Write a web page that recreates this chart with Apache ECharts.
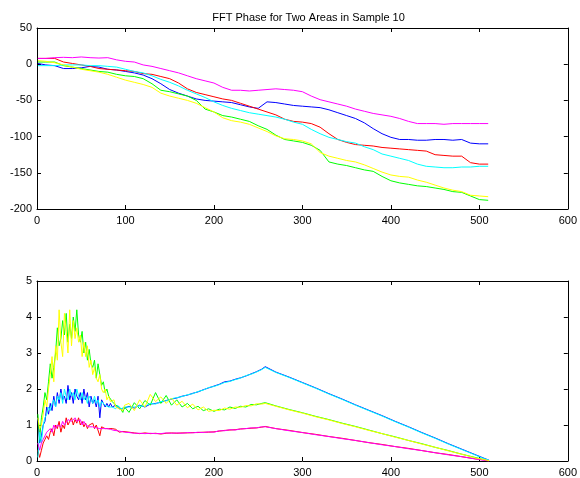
<!DOCTYPE html>
<html>
<head>
<meta charset="utf-8">
<script src="https://cdn.jsdelivr.net/npm/echarts@6/dist/echarts.min.js"></script>
<style>html,body{margin:0;padding:0;background:#fff;}#c{width:580px;height:478px;}</style>
</head>
<body>
<div id="c"></div>
<script>
// ---- Top subplot: phase ----
var xTop = [1,10,20,30,40,50,60,70,80,90,100,110,120,130,140,150,160,170,180,190,200,210,220,230,240,250,260,270,280,290,300,310,320,330,340,350,360,370,380,390,400,410,420,430,440,450,460,470,480,490,500,510];
var phaseBlue = [1,-1,-2,-6,-6,-5,-3,-4,-7,-8,-10,-12,-15,-20,-27,-35,-40,-44,-48,-50,-51,-52,-53,-56,-59,-61,-52,-53,-55,-57,-58,-59,-60,-63,-67,-71,-75,-81,-89,-96,-101,-104,-104,-105,-105,-104,-104,-105,-104,-109,-110,-110];
var phaseGreen = [3,3,3,-2,-4,-6,-8,-10,-11,-14,-16,-17,-20,-27,-36,-38,-41,-44,-50,-62,-66,-71,-73,-76,-79,-85,-90,-98,-104,-106,-108,-112,-119,-135,-138,-140,-143,-146,-148,-155,-161,-164,-166,-168,-169,-171,-173,-176,-177,-182,-187,-188];
var phaseRed = [8,8,8,3,1,-1,-3,-6,-7,-8,-9,-10,-13,-14,-17,-20,-26,-34,-39,-42,-45,-48,-50,-54,-58,-62,-66,-70,-76,-79,-80,-82,-87,-96,-104,-108,-111,-112,-113,-115,-116,-117,-118,-119,-120,-125,-126,-127,-127,-136,-138,-138];
var phaseCyan = [-2,-2,-2,-1,-1,-1,-2,-2,-3,-4,-7,-10,-12,-16,-21,-25,-30,-36,-41,-46,-52,-57,-61,-64,-67,-69,-71,-73,-76,-80,-83,-90,-96,-101,-104,-107,-109,-114,-118,-124,-127,-130,-133,-138,-141,-142,-143,-143,-142,-142,-141,-141];
var phaseMagenta = [8,8,9,9.5,9,10,9,8.5,9,6,4,3,-1,-3,-6,-9,-12,-16,-20,-23,-26,-32,-36,-36,-37,-36,-35,-34,-35,-36,-38,-44,-49,-52,-55,-58,-62,-65,-68,-70,-72,-75,-79,-82,-82,-82,-83,-82,-82,-82,-82,-82];
var phaseYellow = [5,4,2,-1,-4,-7,-9,-11,-14,-18,-22,-25,-28,-32,-40,-44,-47,-50,-54,-60,-66,-74,-78,-80,-83,-88,-93,-99,-103,-104,-106,-110,-122,-127,-130,-133,-135,-139,-144,-149,-153,-155,-156,-160,-163,-167,-171,-174,-176,-181,-182,-183];

// ---- Bottom subplot ----
var xBot = [1,3,5,7,9,11,13,15,17,19,21,23,25,27,29,31,33,35,37,39,41,43,45,47,49,51,53,55,57,59,61,63,65,67,69,71,73,75,77,79,81,83,85,87,89,91,93,95,97,99,
  104,110,116,122,128,134,140,146,152,158,164,170,176,182,188,194,200,206,212,218,224,230,236,242,248,254,
  258,
  270,285,300,315,330,345,360,375,390,405,420,435,450,465,480,495,505,511];
var botBlue = [1.2,0.5,0.7,1.0,1.1,1.5,1.3,1.6,1.4,1.8,1.5,1.9,1.6,2.0,1.7,1.8,1.6,2.1,1.7,1.9,1.6,2.0,1.8,1.7,1.9,1.6,2.0,1.7,1.9,1.5,1.8,1.6,1.7,1.5,1.8,1.2,1.7,1.6,1.5,1.6,1.5,1.6,1.5,1.45,1.55,1.5,1.45,1.5,1.45,1.5,
  1.52,1.47,1.55,1.5,1.58,1.6,1.63,1.68,1.72,1.75,1.8,1.83,1.88,1.92,1.98,2.03,2.08,2.13,2.2,2.22,2.27,2.31,2.36,2.42,2.48,2.55,
  2.62,
  2.47,2.33,2.18,2.03,1.87,1.72,1.56,1.41,1.26,1.1,0.95,0.79,0.64,0.48,0.33,0.18,0.08,0.02];
var botGreen = [1.3,0.6,1.2,1.5,1.9,1.7,2.2,2.7,2.3,2.6,3.0,3.7,3.2,3.4,3.9,3.5,4.1,3.3,3.8,3.4,4.0,3.6,4.2,3.5,3.3,3.6,3.0,3.3,2.8,3.1,2.7,2.6,2.8,2.3,2.7,2.4,2.1,2.2,1.9,2.0,1.8,1.75,1.65,1.7,1.55,1.6,1.5,1.45,1.35,1.5,
  1.35,1.62,1.45,1.68,1.55,1.9,1.6,1.82,1.55,1.7,1.5,1.6,1.45,1.52,1.4,1.45,1.38,1.44,1.42,1.5,1.46,1.52,1.5,1.57,1.56,1.6,
  1.62,
  1.53,1.43,1.34,1.24,1.15,1.05,0.96,0.86,0.76,0.67,0.57,0.48,0.38,0.29,0.19,0.1,0.04,0.01];
var botRed = [0.3,0.1,0.3,0.5,0.6,0.7,0.6,0.8,0.9,0.7,1.0,0.9,1.1,0.8,1.0,0.9,1.2,1.0,1.1,1.2,1.0,1.15,1.05,1.2,1.0,1.1,0.95,1.05,0.9,1.0,0.95,1.05,0.9,1.0,0.95,0.7,0.95,0.9,0.9,0.85,0.9,0.85,0.9,0.85,0.88,0.85,0.8,0.85,0.82,0.8,
  0.8,0.78,0.76,0.78,0.76,0.77,0.75,0.77,0.78,0.77,0.78,0.78,0.79,0.79,0.8,0.8,0.81,0.83,0.85,0.86,0.87,0.89,0.9,0.91,0.92,0.94,
  0.96,
  0.9,0.85,0.79,0.74,0.68,0.63,0.57,0.51,0.46,0.4,0.35,0.29,0.23,0.18,0.12,0.06,0.03,0.0];
var botCyan = [0.1,0.8,0.5,1.0,1.2,1.3,1.5,1.4,1.6,1.7,1.5,1.8,1.7,1.9,1.6,2.0,1.8,1.7,2.0,1.8,1.9,1.7,2.0,1.8,1.7,1.9,1.7,1.8,1.6,1.8,1.7,1.6,1.8,1.6,1.7,1.5,1.65,1.6,1.55,1.6,1.5,1.55,1.5,1.5,1.45,1.55,1.5,1.45,1.5,1.5,
  1.5,1.5,1.53,1.52,1.6,1.58,1.65,1.67,1.73,1.76,1.79,1.84,1.87,1.93,1.97,2.04,2.07,2.12,2.18,2.21,2.26,2.3,2.37,2.41,2.47,2.54,
  2.6,
  2.46,2.32,2.17,2.02,1.86,1.71,1.55,1.4,1.25,1.09,0.94,0.78,0.63,0.47,0.32,0.17,0.07,0.02];
var botMagenta = [0.5,0.3,0.5,0.6,0.7,0.8,0.85,0.9,0.8,1.0,0.9,1.0,1.05,0.95,1.1,1.0,1.05,1.15,1.2,1.1,1.15,1.2,1.1,1.05,1.15,1.0,1.1,1.0,1.05,0.95,1.0,0.95,1.0,0.92,0.95,0.9,0.93,0.9,0.88,0.9,0.85,0.88,0.85,0.85,0.82,0.84,0.8,0.82,0.8,0.8,
  0.79,0.77,0.77,0.76,0.77,0.76,0.76,0.78,0.77,0.78,0.77,0.79,0.78,0.8,0.79,0.81,0.8,0.84,0.84,0.87,0.86,0.89,0.9,0.92,0.92,0.95,
  0.95,
  0.9,0.84,0.79,0.73,0.68,0.62,0.57,0.51,0.45,0.4,0.34,0.29,0.23,0.17,0.12,0.06,0.02,0.0];
var botYellow = [1.2,0.9,1.0,1.3,1.7,1.5,2.0,2.4,2.9,2.2,3.2,2.8,4.2,3.3,2.9,4.1,3.6,3.0,4.2,3.2,3.9,3.4,3.7,3.3,3.5,2.9,3.3,2.9,3.2,2.6,2.8,2.4,2.6,2.3,2.2,2.4,2.0,1.9,2.0,1.7,1.8,1.65,1.6,1.7,1.5,1.55,1.45,1.5,1.4,1.55,
  1.6,1.4,1.7,1.5,1.85,1.65,1.78,1.6,1.75,1.55,1.66,1.48,1.58,1.42,1.5,1.38,1.41,1.4,1.47,1.44,1.5,1.49,1.54,1.53,1.59,1.58,
  1.6,
  1.52,1.42,1.33,1.23,1.14,1.04,0.95,0.85,0.76,0.66,0.57,0.47,0.38,0.28,0.19,0.09,0.04,0.01];

var titleText = 'FFT Phase for Two Areas in Sample 10';

function pairs(xs, ys){ return xs.map(function(x,i){ return [x, ys[i]]; }); }

var FONT = 'Liberation Sans, Arial, Helvetica, sans-serif';
function axisBase(opts){
  var a = {
    axisLine: {show: true, onZero: false, lineStyle: {color: '#000', width: 1}},
    axisTick: {show: true, inside: true, length: 4, lineStyle: {color: '#000', width: 1}},
    splitLine: {show: false},
    axisLabel: {show: true, color: '#000', fontSize: 11, fontFamily: FONT}
  };
  for (var k in opts) a[k] = opts[k];
  return a;
}

var colorsOrder = ['#0000ff','#00ff00','#ff0000','#00ffff','#ff00ff','#ffff00'];
var topSets = [phaseBlue, phaseGreen, phaseRed, phaseCyan, phaseMagenta, phaseYellow];
var botSets = [botBlue, botGreen, botRed, botCyan, botMagenta, botYellow];

var series = [];
topSets.forEach(function(s, i){
  series.push({type:'line', xAxisIndex:0, yAxisIndex:0, data: pairs(xTop, s), showSymbol:false, symbol:'none',
    lineStyle:{color: colorsOrder[i], width:1}, itemStyle:{color: colorsOrder[i]}, animation:false, silent:true});
});
botSets.forEach(function(s, i){
  series.push({type:'line', xAxisIndex:2, yAxisIndex:2, data: pairs(xBot, s), showSymbol:false, symbol:'none',
    lineStyle:{color: colorsOrder[i], width:1}, itemStyle:{color: colorsOrder[i]}, animation:false, silent:true});
});

var option = {
  backgroundColor: '#fff',
  animation: false,
  title: {text: titleText, left: 303.5, top: 7, textAlign: 'center',
    textStyle: {fontSize: 11, fontWeight: 'normal', color: '#000', fontFamily: FONT}},
  grid: [
    {left: 37, right: 10, top: 28, height: 181},
    {left: 37, right: 10, top: 281, height: 180}
  ],
  xAxis: [
    axisBase({type:'value', gridIndex:0, position:'bottom', min:0, max:600, interval:100, axisLabel:{show:true,color:'#000',fontSize:11,fontFamily:FONT,margin:6}}),
    axisBase({type:'value', gridIndex:0, position:'top', min:0, max:600, interval:100, axisLabel:{show:false}}),
    axisBase({type:'value', gridIndex:1, position:'bottom', min:0, max:600, interval:100, axisLabel:{show:true,color:'#000',fontSize:11,fontFamily:FONT,margin:6}}),
    axisBase({type:'value', gridIndex:1, position:'top', min:0, max:600, interval:100, axisLabel:{show:false}})
  ],
  yAxis: [
    axisBase({type:'value', gridIndex:0, position:'left', min:-200, max:50, interval:50, axisLabel:{show:true,color:'#000',fontSize:11,fontFamily:FONT,margin:5}}),
    axisBase({type:'value', gridIndex:0, position:'right', min:-200, max:50, interval:50, axisLabel:{show:false}}),
    axisBase({type:'value', gridIndex:1, position:'left', min:0, max:5, interval:1, axisLabel:{show:true,color:'#000',fontSize:11,fontFamily:FONT,margin:5}}),
    axisBase({type:'value', gridIndex:1, position:'right', min:0, max:5, interval:1, axisLabel:{show:false}})
  ],
  series: series
};

var chart = echarts.init(document.getElementById('c'), null, {renderer:'canvas'});
chart.setOption(option);
</script>
</body>
</html>
